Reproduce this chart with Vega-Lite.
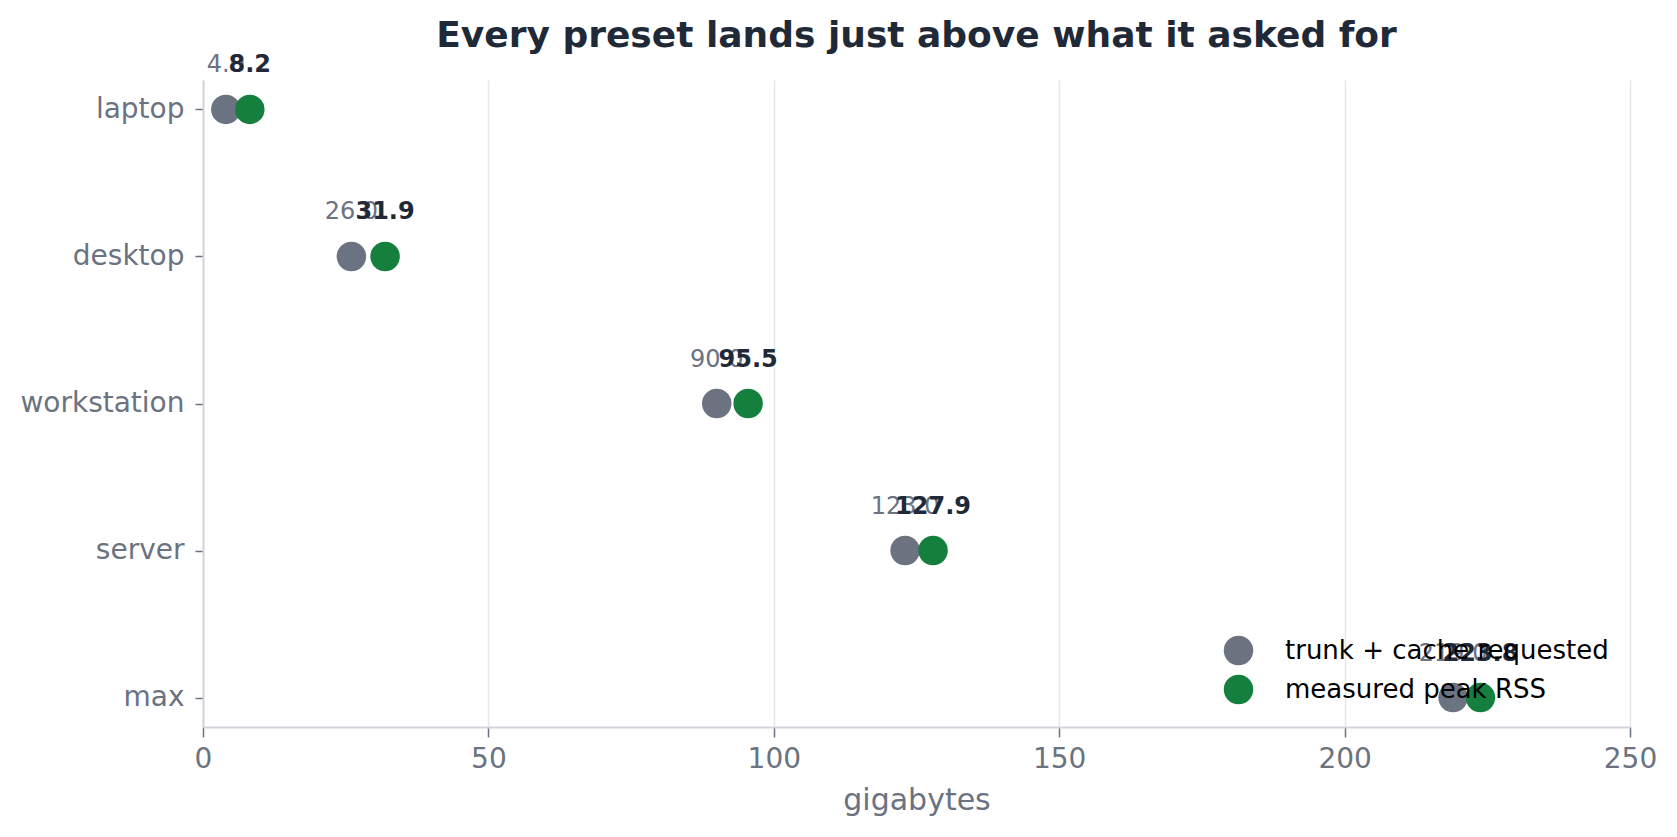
{
  "$schema": "https://vega.github.io/schema/vega-lite/v6.json",
  "width": 1427,
  "height": 647,
  "autosize": {"type": "none"},
  "padding": {"left": 203, "top": 80, "right": 47, "bottom": 110},
  "background": "white",
  "title": {
    "text": "Every preset lands just above what it asked for",
    "anchor": "middle",
    "font": "DejaVu Sans",
    "fontSize": 36,
    "fontWeight": "bold",
    "color": "#1f2937",
    "offset": -2
  },
  "config": {
    "view": {"stroke": null},
    "font": "DejaVu Sans"
  },
  "data": {
    "values": [
      {"preset": "laptop", "series": "trunk + cache requested", "gb": 4.0},
      {"preset": "laptop", "series": "measured peak RSS", "gb": 8.2},
      {"preset": "desktop", "series": "trunk + cache requested", "gb": 26.0},
      {"preset": "desktop", "series": "measured peak RSS", "gb": 31.9},
      {"preset": "workstation", "series": "trunk + cache requested", "gb": 90.0},
      {"preset": "workstation", "series": "measured peak RSS", "gb": 95.5},
      {"preset": "server", "series": "trunk + cache requested", "gb": 123.0},
      {"preset": "server", "series": "measured peak RSS", "gb": 127.9},
      {"preset": "max", "series": "trunk + cache requested", "gb": 219.0},
      {"preset": "max", "series": "measured peak RSS", "gb": 223.8}
    ]
  },
  "encoding": {
    "x": {
      "field": "gb",
      "type": "quantitative",
      "scale": {"domain": [0, 250], "nice": false, "zero": true},
      "axis": {
        "title": "gigabytes",
        "values": [0, 50, 100, 150, 200, 250],
        "grid": true,
        "gridColor": "#e5e7eb",
        "gridWidth": 1.5,
        "domainColor": "#d1d5db",
        "domainWidth": 2,
        "tickColor": "#6b7280",
        "tickSize": 10,
        "tickWidth": 1.5,
        "labelFontSize": 28,
        "labelColor": "#6b7280",
        "labelPadding": 8,
        "labelFlush": false,
        "titleFontSize": 30,
        "titleFontWeight": "normal",
        "titleColor": "#6b7280",
        "titlePadding": 12
      }
    },
    "y": {
      "field": "preset",
      "type": "ordinal",
      "sort": null,
      "scale": {"type": "point", "padding": 0.2},
      "axis": {
        "title": null,
        "grid": false,
        "domainColor": "#d1d5db",
        "domainWidth": 2,
        "tickColor": "#6b7280",
        "tickSize": 8,
        "tickWidth": 1.5,
        "labelFontSize": 28,
        "labelColor": "#6b7280",
        "labelPadding": 11
      }
    }
  },
  "layer": [
    {
      "mark": {"type": "circle", "size": 870, "opacity": 1},
      "encoding": {
        "color": {
          "field": "series",
          "type": "nominal",
          "sort": null,
          "scale": {
            "domain": ["trunk + cache requested", "measured peak RSS"],
            "range": ["#6b7280", "#15803d"]
          },
          "legend": {
            "title": null,
            "orient": "none",
            "legendX": 1020,
            "legendY": 555,
            "symbolType": "circle",
            "symbolSize": 870,
            "symbolOpacity": 1,
            "labelFontSize": 26,
            "labelColor": "black",
            "labelOffset": 31,
            "labelLimit": 0,
            "rowPadding": 8
          }
        },
        "order": {"field": "series", "sort": "descending"}
      }
    },
    {
      "transform": [{"filter": "datum.series == 'trunk + cache requested'"}],
      "mark": {
        "type": "text",
        "dy": -37,
        "baseline": "alphabetic",
        "align": "center",
        "fontSize": 24,
        "color": "#6b7280"
      },
      "encoding": {"text": {"field": "gb", "type": "quantitative", "format": ".1f"}}
    },
    {
      "transform": [{"filter": "datum.series == 'measured peak RSS'"}],
      "mark": {
        "type": "text",
        "dy": -37,
        "baseline": "alphabetic",
        "align": "center",
        "fontSize": 24,
        "fontWeight": "bold",
        "color": "#1f2937"
      },
      "encoding": {"text": {"field": "gb", "type": "quantitative", "format": ".1f"}}
    }
  ]
}
